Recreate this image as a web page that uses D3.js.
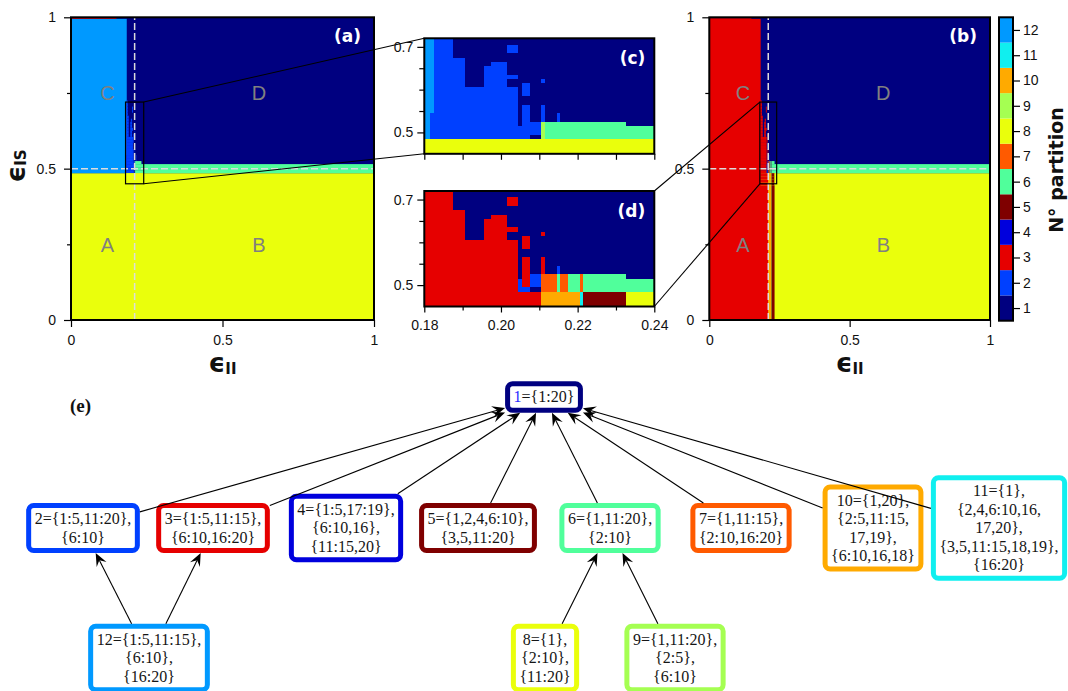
<!DOCTYPE html>
<html>
<head>
<meta charset="utf-8">
<script src="https://cdn.jsdelivr.net/npm/d3@7/dist/d3.min.js"></script>
<style>
  html, body { margin: 0; padding: 0; background: #ffffff; }
  svg { display: block; }
</style>
</head>
<body>
<svg id="fig" width="1068" height="691"></svg>
<script>
// ---------------- partitions and their colours ----------------
const partitionIds = [1, 2, 3, 4, 5, 6, 7, 8, 9, 10, 11, 12];
const partitionColors = ["#000080", "#0040ff", "#e60000", "#0000dd", "#7f0000", "#50ff9b",
                         "#ff5a00", "#eaff0c", "#a5ff52", "#ffaa00", "#10efef", "#0099ff"];

// ---------------- coarse regions of the full maps: [x0, x1, y0, y1, partition] ----------------
const regionsA = [
  [0, 1, 0, 1, 1],
  [0, 1, 0, 0.485, 8],
  [0.2405, 1, 0.485, 0.515, 6],
  [0, 0.184, 0.485, 0.995, 12],
  [0, 0.15, 0.995, 1, 3]
];
const regionsB = [
  [0, 1, 0, 1, 1],
  [0, 1, 0, 0.485, 8],
  [0.2405, 1, 0.485, 0.515, 6],
  [0, 0.183, 0, 0.995, 3],
  [0, 0.15, 0.995, 1, 3],
  [0.18, 0.2105, 0, 0.445, 3],
  [0.2105, 0.2205, 0, 0.445, 10],
  [0.2205, 0.2215, 0, 0.445, 11],
  [0.2215, 0.2325, 0, 0.445, 5]
];

// ---------------- fine grid around the transition ----------------
const zoomXRange = [0.18, 0.24];
const zoomYRange = [0.45, 0.72];
const zoomColStart = 0.18, zoomColStep = 0.001, zoomRowStep = 0.01;
const zoomRowY = [0.72, 0.71, 0.70, 0.69, 0.68, 0.67, 0.66, 0.65, 0.64, 0.63, 0.62, 0.61, 0.60, 0.59,
                  0.58, 0.57, 0.56, 0.55, 0.54, 0.53, 0.52, 0.51, 0.50, 0.49, 0.48, 0.47, 0.46, 0.45];
// each row: runs [firstColumn, lastColumn, partition]; unlisted cells belong to partition 1
const zoomRunsA = [
  [[0, 2, 12], [3, 7, 2]],
  [[0, 2, 12], [3, 7, 2]],
  [[0, 2, 12], [3, 7, 2], [22, 24, 2]],
  [[0, 2, 12], [3, 7, 2], [22, 24, 2]],
  [[0, 2, 12], [3, 7, 2]],
  [[0, 2, 12], [3, 10, 2]],
  [[0, 2, 12], [3, 10, 2], [18, 21, 2]],
  [[0, 2, 12], [3, 10, 2], [16, 21, 2]],
  [[0, 2, 12], [3, 10, 2], [16, 21, 2]],
  [[0, 2, 12], [3, 10, 2], [16, 24, 2]],
  [[0, 2, 12], [3, 10, 2], [16, 21, 2], [31, 31, 2]],
  [[0, 2, 12], [3, 10, 2], [16, 21, 2], [26, 27, 2]],
  [[0, 2, 12], [3, 24, 2], [26, 27, 2]],
  [[0, 2, 12], [3, 24, 2], [26, 27, 2]],
  [[0, 2, 12], [3, 24, 2]],
  [[0, 2, 12], [3, 24, 2]],
  [[0, 2, 12], [3, 24, 2], [26, 27, 2], [31, 31, 2]],
  [[0, 2, 12], [3, 24, 2], [26, 27, 2], [31, 31, 2]],
  [[0, 1, 12], [2, 24, 2], [26, 27, 2], [31, 31, 2], [35, 35, 2]],
  [[0, 1, 12], [2, 24, 2], [26, 27, 2], [31, 31, 2], [35, 35, 2]],
  [[0, 1, 12], [2, 24, 2], [26, 30, 2], [31, 31, 9], [32, 52, 6]],
  [[0, 1, 12], [2, 30, 2], [31, 31, 9], [32, 60, 6]],
  [[0, 1, 12], [2, 30, 2], [31, 31, 9], [32, 60, 6]],
  [[0, 1, 12], [2, 27, 2], [31, 31, 9], [32, 60, 6]],
  [[0, 60, 8]],
  [[0, 60, 8]],
  [[0, 60, 8]],
  [[0, 60, 8]]
];
const zoomRunsB = [
  [[0, 7, 3]],
  [[0, 7, 3]],
  [[0, 7, 3], [22, 24, 3]],
  [[0, 7, 3], [22, 24, 3]],
  [[0, 7, 3]],
  [[0, 10, 3]],
  [[0, 10, 3], [18, 21, 3]],
  [[0, 10, 3], [16, 21, 3]],
  [[0, 10, 3], [16, 21, 3]],
  [[0, 10, 3], [16, 24, 3]],
  [[0, 10, 3], [16, 21, 3], [31, 31, 3]],
  [[0, 10, 3], [16, 21, 3], [26, 27, 3]],
  [[0, 24, 3], [26, 27, 3]],
  [[0, 24, 3], [26, 27, 3]],
  [[0, 24, 3]],
  [[0, 24, 3]],
  [[0, 24, 3], [26, 27, 3], [31, 31, 3]],
  [[0, 24, 3], [26, 27, 3], [31, 31, 3]],
  [[0, 24, 3], [26, 27, 3], [31, 31, 3], [35, 35, 2]],
  [[0, 24, 3], [26, 27, 3], [31, 31, 3], [35, 35, 2]],
  [[0, 24, 3], [26, 27, 3], [28, 30, 2], [31, 34, 7], [35, 35, 6], [36, 37, 7], [38, 40, 6], [41, 41, 7], [42, 52, 6]],
  [[0, 24, 3], [25, 25, 2], [26, 27, 3], [28, 30, 2], [31, 34, 7], [35, 35, 6], [36, 37, 7], [38, 40, 6], [41, 41, 7], [42, 60, 6]],
  [[0, 24, 3], [25, 25, 2], [26, 27, 3], [28, 30, 2], [31, 34, 7], [35, 35, 6], [36, 37, 7], [38, 40, 6], [41, 41, 7], [42, 60, 6]],
  [[0, 24, 3], [25, 27, 2], [31, 34, 7], [35, 35, 6], [36, 37, 7], [38, 40, 6], [41, 41, 7], [42, 60, 6]],
  [[0, 30, 3], [31, 40, 10], [41, 41, 11], [42, 52, 5], [53, 60, 8]],
  [[0, 30, 3], [31, 40, 10], [41, 41, 11], [42, 52, 5], [53, 60, 8]],
  [[0, 30, 3], [31, 40, 10], [41, 41, 11], [42, 52, 5], [53, 60, 8]],
  [[0, 30, 3], [31, 40, 10], [41, 41, 11], [42, 52, 5], [53, 60, 8]]
];

// ---------------- ticks, guides and labels ----------------
const mainTicks = [0, 0.5, 1];
const mainMinorTicks = [0.25, 0.75];
const zoomXTicks = [0.18, 0.20, 0.22, 0.24];
const zoomXMinor = [0.19, 0.21, 0.23];
const zoomYTicks = [0.5, 0.7];
const zoomYMinor = [0.55, 0.60, 0.65];
const guideX = 0.21, guideY = 0.5;
const regionLabels = [
  { text: "A", x: 0.12, y: 0.25 }, { text: "B", x: 0.62, y: 0.25 },
  { text: "C", x: 0.12, y: 0.75 }, { text: "D", x: 0.62, y: 0.75 }
];

// ---------------- partition tree ----------------
const treeNodes = [
  { id: 1,  lines: ["1={1:20}"] },
  { id: 2,  lines: ["2={1:5,11:20},", "{6:10}"] },
  { id: 3,  lines: ["3={1:5,11:15},", "{6:10,16:20}"] },
  { id: 4,  lines: ["4={1:5,17:19},", "{6:10,16},", "{11:15,20}"] },
  { id: 5,  lines: ["5={1,2,4,6:10},", "{3,5,11:20}"] },
  { id: 6,  lines: ["6={1,11:20},", "{2:10}"] },
  { id: 7,  lines: ["7={1,11:15},", "{2:10,16:20}"] },
  { id: 10, lines: ["10={1,20},", "{2:5,11:15,", "17,19},", "{6:10,16,18}"] },
  { id: 11, lines: ["11={1},", "{2,4,6:10,16,", "17,20},", "{3,5,11:15,18,19},", "{16:20}"] },
  { id: 12, lines: ["12={1:5,11:15},", "{6:10},", "{16:20}"] },
  { id: 8,  lines: ["8={1},", "{2:10},", "{11:20}"] },
  { id: 9,  lines: ["9={1,11:20},", "{2:5},", "{6:10}"] }
];
const treeLinks = [[2, 1], [3, 1], [4, 1], [5, 1], [6, 1], [7, 1], [10, 1], [11, 1],
                   [12, 2], [12, 3], [8, 6], [9, 6]];

// ================= drawing =================
const svg = d3.select("#fig");
const color = d3.scaleOrdinal().domain(partitionIds).range(partitionColors);
const sans = "'Liberation Sans', Arial, sans-serif";
const bold = "'DejaVu Sans', 'Liberation Sans', sans-serif";
const serif = "'Liberation Serif', 'DejaVu Serif', serif";

// node layout of the tree (screen positions of box centres)
const treeLayout = {
  1: [544, 397],
  2: [83, 528], 3: [213, 528], 4: [346, 528], 5: [478, 528], 6: [610, 528],
  7: [741, 528], 10: [873, 528], 11: [999, 528],
  12: [149, 658], 8: [545, 658], 9: [675, 658]
};

// scales
const xA = d3.scaleLinear().domain([0, 1]).range([71, 374]);
const xB = d3.scaleLinear().domain([0, 1]).range([709.3, 990]);
const yMain = d3.scaleLinear().domain([0, 1]).range([320, 17.3]);
const xZ = d3.scaleLinear().domain(zoomXRange).range([424.3, 654.3]);
const yC = d3.scaleLinear().domain(zoomYRange).range([153.8, 38.3]);
const yD = d3.scaleLinear().domain(zoomYRange).range([306.5, 191]);

let clipCount = 0;
function mapPanel(x, y, regions, runs, snap) {
  const [xa, xb] = x.range();
  const [ya, yb] = y.range();
  const id = "mapclip" + (clipCount++);
  svg.append("clipPath").attr("id", id).append("rect")
    .attr("x", xa).attr("y", yb).attr("width", xb - xa).attr("height", ya - yb);
  const g = svg.append("g").attr("clip-path", `url(#${id})`);
  const px = v => snap ? Math.round(x(v)) : x(v);
  const py = v => snap ? Math.round(y(v)) : y(v);
  const cells = regions.map(r => ({ x0: r[0], x1: r[1], y0: r[2], y1: r[3], p: r[4] }));
  runs.forEach((row, i) => row.forEach(([c0, c1, p]) => cells.push({
    x0: zoomColStart + (c0 - 0.5) * zoomColStep,
    x1: zoomColStart + (c1 + 0.5) * zoomColStep,
    y0: zoomRowY[i] - zoomRowStep / 2,
    y1: zoomRowY[i] + zoomRowStep / 2,
    p
  })));
  g.selectAll("rect").data(cells).join("rect")
    .attr("x", d => px(d.x0)).attr("width", d => px(d.x1) - px(d.x0))
    .attr("y", d => py(d.y1)).attr("height", d => py(d.y0) - py(d.y1))
    .attr("fill", d => color(d.p));
  return g;
}

function frame(x, y, w) {
  const [xa, xb] = x.range();
  const [ya, yb] = y.range();
  svg.append("rect").attr("x", xa).attr("y", yb).attr("width", xb - xa).attr("height", ya - yb)
    .attr("fill", "none").attr("stroke", "#000").attr("stroke-width", w);
}

function styleAxis(sel, size) {
  sel.select(".domain").remove();
  sel.selectAll(".tick line").attr("stroke", "#000").attr("stroke-width", 1.2);
  sel.selectAll(".tick text").attr("font-family", sans).attr("font-size", size || 14).attr("fill", "#111");
}

function addAxis(gen, tx, ty, size) {
  svg.append("g").attr("transform", `translate(${tx},${ty})`).call(gen).call(s => styleAxis(s, size));
}

// ---- full maps (a) and (b) ----
mapPanel(xA, yMain, regionsA, zoomRunsA, false);
mapPanel(xB, yMain, regionsB, zoomRunsB, false);

[[xA], [xB]].forEach(([x]) => {
  // dashed guide lines
  svg.append("line").attr("x1", x(guideX)).attr("x2", x(guideX)).attr("y1", yMain(0)).attr("y2", yMain(1))
    .attr("stroke", "#dcdcdc").attr("stroke-width", 1.5).attr("stroke-dasharray", "7,3");
  svg.append("line").attr("x1", x(0)).attr("x2", x(1)).attr("y1", yMain(guideY)).attr("y2", yMain(guideY))
    .attr("stroke", "#dcdcdc").attr("stroke-width", 1.5).attr("stroke-dasharray", "7,3");
  // region letters
  svg.append("g").selectAll("text").data(regionLabels).join("text")
    .attr("x", d => x(d.x)).attr("y", d => yMain(d.y)).attr("dy", "0.36em")
    .attr("text-anchor", "middle").attr("font-family", sans).attr("font-size", 20)
    .attr("fill", "#808080").text(d => d.text);
  // zoom window outline
  svg.append("rect").attr("x", x(zoomXRange[0])).attr("y", yMain(zoomYRange[1]))
    .attr("width", x(zoomXRange[1]) - x(zoomXRange[0]))
    .attr("height", yMain(zoomYRange[0]) - yMain(zoomYRange[1]))
    .attr("fill", "none").attr("stroke", "#000").attr("stroke-width", 1.2);
  frame(x, yMain, 2);
  addAxis(d3.axisBottom(x).tickValues(mainTicks).tickFormat(d3.format("~g")).tickSize(7).tickPadding(8), 0, yMain(0));
  addAxis(d3.axisLeft(yMain).tickValues(mainTicks).tickFormat(d3.format("~g")).tickSize(7).tickPadding(8), x(0), 0);
  addAxis(d3.axisLeft(yMain).tickValues(mainMinorTicks).tickFormat("").tickSize(4), x(0), 0);
  // x axis title
  const t = svg.append("text").attr("x", (x(0) + x(1)) / 2).attr("y", 372).attr("text-anchor", "middle")
    .attr("font-family", bold).attr("font-weight", "bold").attr("fill", "#111");
  t.append("tspan").attr("font-size", 26).text("\u03F5");
  t.append("tspan").attr("font-size", 15).attr("dy", 2).text("II");
});

// y axis title of (a)
{
  const t = svg.append("text").attr("transform", "translate(25,166) rotate(-90)").attr("text-anchor", "middle")
    .attr("font-family", bold).attr("font-weight", "bold").attr("fill", "#111");
  t.append("tspan").attr("font-size", 26).text("\u03F5");
  t.append("tspan").attr("font-size", 15).attr("dy", 1).text("IS");
}

// panel letters of the full maps
[[xA, "(a)"], [xB, "(b)"]].forEach(([x, s]) => {
  svg.append("text").attr("x", x(1) - 13).attr("y", 42).attr("text-anchor", "end")
    .attr("font-family", bold).attr("font-weight", "bold").attr("font-size", 17).attr("fill", "#fff").text(s);
});

// ---- connectors to the zoomed panels ----
const connectors = [
  [xA(zoomXRange[1]), yMain(zoomYRange[1]), xZ(zoomXRange[0]), yC(zoomYRange[1])],
  [xA(zoomXRange[1]), yMain(zoomYRange[0]), xZ(zoomXRange[0]), yC(zoomYRange[0])],
  [xB(zoomXRange[0]), yMain(zoomYRange[1]), xZ(zoomXRange[1]), yD(zoomYRange[1])],
  [xB(zoomXRange[0]), yMain(zoomYRange[0]), xZ(zoomXRange[1]), yD(zoomYRange[0])]
];
svg.append("g").selectAll("line").data(connectors).join("line")
  .attr("x1", d => d[0]).attr("y1", d => d[1]).attr("x2", d => d[2]).attr("y2", d => d[3])
  .attr("stroke", "#000").attr("stroke-width", 1.1);

// ---- zoomed panels (c) and (d) ----
[[yC, zoomRunsA, "(c)", false], [yD, zoomRunsB, "(d)", true]].forEach(([y, runs, s, labelled]) => {
  mapPanel(xZ, y, [[zoomXRange[0], zoomXRange[1], zoomYRange[0], zoomYRange[1], 1]], runs, true);
  frame(xZ, y, 2);
  addAxis(d3.axisBottom(xZ).tickValues(zoomXTicks).tickFormat(labelled ? d3.format(".2f") : "").tickSize(6).tickPadding(8), 0, y(zoomYRange[0]));
  addAxis(d3.axisBottom(xZ).tickValues(zoomXMinor).tickFormat("").tickSize(labelled ? 4 : 6), 0, y(zoomYRange[0]));
  addAxis(d3.axisLeft(y).tickValues(zoomYTicks).tickFormat(d3.format(".1f")).tickSize(7).tickPadding(4), xZ(zoomXRange[0]), 0);
  addAxis(d3.axisLeft(y).tickValues(zoomYMinor).tickFormat("").tickSize(5), xZ(zoomXRange[0]), 0);
  svg.append("text").attr("x", xZ(zoomXRange[1]) - 9).attr("y", y(zoomYRange[1]) + 26).attr("text-anchor", "end")
    .attr("font-family", bold).attr("font-weight", "bold").attr("font-size", 17).attr("fill", "#fff").text(s);
});

// ---- colour bar ----
{
  const cb = d3.scaleLinear().domain([0.5, 12.5]).range([320.7, 17.3]);
  const cx0 = 999, cx1 = 1013;
  svg.append("g").selectAll("rect").data(partitionIds).join("rect")
    .attr("x", cx0).attr("width", cx1 - cx0)
    .attr("y", d => cb(d + 0.5)).attr("height", d => cb(d - 0.5) - cb(d + 0.5))
    .attr("fill", d => color(d));
  svg.append("rect").attr("x", cx0).attr("y", cb(12.5)).attr("width", cx1 - cx0).attr("height", cb(0.5) - cb(12.5))
    .attr("fill", "none").attr("stroke", "#000").attr("stroke-width", 2);
  addAxis(d3.axisRight(cb).tickValues(partitionIds).tickFormat(d3.format("d")).tickSize(7).tickPadding(3), cx1, 0, 14);
  svg.append("text").attr("transform", "translate(1063,170) rotate(-90)").attr("text-anchor", "middle")
    .attr("font-family", bold).attr("font-weight", "bold").attr("font-size", 19).attr("fill", "#111")
    .text("N\u00B0 partition");
}

// ---- tree (e) ----
svg.append("text").attr("x", 70).attr("y", 412).attr("font-family", serif).attr("font-weight", "bold")
  .attr("font-size", 19).attr("fill", "#111").text("(e)");

const fs = 16, lh = 18.5, padX = 12, padY = 8, border = 5;
const nodeG = svg.append("g").selectAll("g").data(treeNodes).join("g")
  .attr("transform", d => `translate(${treeLayout[d.id][0]},${treeLayout[d.id][1]})`);
nodeG.each(function (d) {
  const g = d3.select(this);
  const rect = g.append("rect");
  const text = g.append("text").attr("font-family", serif).attr("font-size", fs)
    .attr("text-anchor", "middle").attr("fill", "#151515");
  const n = d.lines.length;
  d.lines.forEach((ln, i) => {
    const t = text.append("tspan").attr("x", 0).attr("y", -n * lh / 2 + lh * (i + 0.5) + fs * 0.33);
    if (d.id === 1 && i === 0) {
      const k = ln.indexOf("=");
      t.append("tspan").attr("fill", "#2b2bff").text(ln.slice(0, k));
      t.append("tspan").text(ln.slice(k));
    } else {
      t.text(ln);
    }
  });
  const w = text.node().getBBox().width;
  const rw = w + padX, rh = n * lh + padY;
  d.w = rw + border; d.h = rh + border;
  rect.attr("x", -rw / 2).attr("y", -rh / 2).attr("width", rw).attr("height", rh).attr("rx", 5)
    .attr("fill", "#fff").attr("stroke", color(d.id)).attr("stroke-width", border);
});

const byId = new Map(treeNodes.map(d => [d.id, d]));
const edgeG = svg.append("g");
treeLinks.forEach(([c, p]) => {
  const a = byId.get(c), b = byId.get(p);
  const [ax, ay] = treeLayout[c];
  const [bx, by] = treeLayout[p];
  const len = Math.hypot(bx - ax, by - ay);
  const ux = (bx - ax) / len, uy = (by - ay) / len;
  const ta = Math.min(a.w / 2 / Math.abs(ux), a.h / 2 / Math.abs(uy));
  const tb = Math.min(b.w / 2 / Math.abs(ux), b.h / 2 / Math.abs(uy));
  const sx = ax + ux * ta, sy = ay + uy * ta;
  const ex = bx - ux * tb, ey = by - uy * tb;
  const L = 13, hw = 5.5, notch = 0.62 * L;
  const nx = -uy, ny = ux;
  edgeG.append("line").attr("x1", sx).attr("y1", sy)
    .attr("x2", ex - ux * notch).attr("y2", ey - uy * notch)
    .attr("stroke", "#000").attr("stroke-width", 1.1);
  const pts = [
    [ex, ey],
    [ex - ux * L + nx * hw, ey - uy * L + ny * hw],
    [ex - ux * notch, ey - uy * notch],
    [ex - ux * L - nx * hw, ey - uy * L - ny * hw]
  ];
  edgeG.append("path").attr("d", "M" + pts.map(q => q.join(",")).join("L") + "Z").attr("fill", "#000");
});
</script>
</body>
</html>
